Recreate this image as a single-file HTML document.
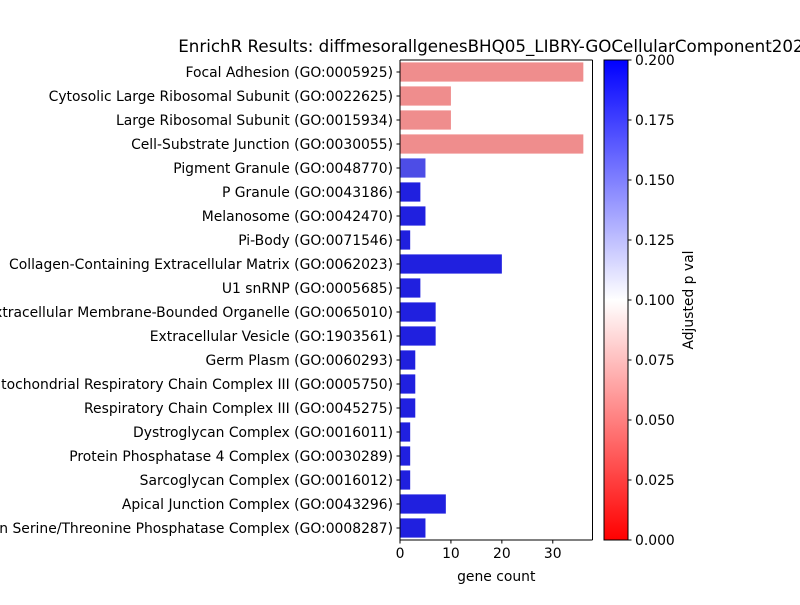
<!DOCTYPE html>
<html><head><meta charset="utf-8"><style>
body{margin:0;background:#fff}
svg text{font-family:"DejaVu Sans","Liberation Sans",sans-serif;fill:#000}
</style></head><body>
<svg id="chart" width="800" height="600" xmlns="http://www.w3.org/2000/svg">
<defs><linearGradient id="cbar" x1="0" y1="1" x2="0" y2="0">
<stop offset="0" stop-color="#ff0000"/><stop offset="0.5" stop-color="#ffffff"/><stop offset="1" stop-color="#0000ff"/>
</linearGradient></defs>
<g id="plot"></g>
</svg>
<script>
const categories=["Focal Adhesion (GO:0005925)","Cytosolic Large Ribosomal Subunit (GO:0022625)","Large Ribosomal Subunit (GO:0015934)","Cell-Substrate Junction (GO:0030055)","Pigment Granule (GO:0048770)","P Granule (GO:0043186)","Melanosome (GO:0042470)","Pi-Body (GO:0071546)","Collagen-Containing Extracellular Matrix (GO:0062023)","U1 snRNP (GO:0005685)","Extracellular Membrane-Bounded Organelle (GO:0065010)","Extracellular Vesicle (GO:1903561)","Germ Plasm (GO:0060293)","Mitochondrial Respiratory Chain Complex III (GO:0005750)","Respiratory Chain Complex III (GO:0045275)","Dystroglycan Complex (GO:0016011)","Protein Phosphatase 4 Complex (GO:0030289)","Sarcoglycan Complex (GO:0016012)","Apical Junction Complex (GO:0043296)","Protein Serine/Threonine Phosphatase Complex (GO:0008287)"];
const geneCounts=[36,10,10,36,5,4,5,2,20,4,7,7,3,3,3,2,2,2,9,5];
const adjPvals=[0.049,0.049,0.049,0.049,0.18,0.2,0.2,0.2,0.2,0.2,0.2,0.2,0.2,0.2,0.2,0.2,0.2,0.2,0.2,0.2];
const xTicks=[0,10,20,30];
const cbTicks=[0,0.025,0.05,0.075,0.1,0.125,0.15,0.175,0.2];
const NS="http://www.w3.org/2000/svg";
const g=document.getElementById('plot');
const L=400,T=60,B=540;
const xMax=Math.max(...geneCounts)*1.05;
const W=192.5;
const x=v=>L+v/xMax*W;
const step=(B-T)/categories.length;
const y=i=>T+step*i;
function mk(t,a,txt){const e=document.createElementNS(NS,t);for(const k in a)e.setAttribute(k,a[k]);if(txt!==undefined)e.textContent=txt;g.appendChild(e);return e;}
function cmap(p){let t=Math.max(0,Math.min(1,p/0.2));let r,gg,b;
 if(t<0.5){r=1;gg=b=2*t;}else{b=1;r=gg=2*(1-t);}
 const mx=Math.max(r,gg,b),mn=Math.min(r,gg,b),l=(mx+mn)/2;
 return [r,gg,b].map(c=>Math.round((l+(c-l)*0.75)*255));}
categories.forEach((c,i)=>{
 const col=cmap(adjPvals[i]);
 const r=mk('rect',{x:x(0),y:y(i)+step*0.1,width:x(geneCounts[i])-x(0),height:step*0.8,fill:`rgb(${col.join(',')})`});
 
 
 mk('line',{x1:L-3.5,x2:L,y1:y(i)+step/2,y2:y(i)+step/2,stroke:'#000'});
 const t=mk('text',{x:L-7,y:y(i)+step/2+5,'text-anchor':'end','font-size':'13.9'},c);
 
 
});
mk('line',{x1:L,x2:L,y1:T,y2:B,stroke:'#000'});
mk('line',{x1:L,x2:L+W,y1:B,y2:B,stroke:'#000'});
mk('line',{x1:L+W,x2:L+W,y1:T,y2:B,stroke:'#000'});
mk('line',{x1:L,x2:L+W,y1:T,y2:T,stroke:'#000'});
xTicks.forEach(v=>{mk('line',{x1:x(v),x2:x(v),y1:B,y2:B+3.5,stroke:'#000'});
 const t=mk('text',{x:x(v),y:B+18,'text-anchor':'middle','font-size':'13.9'},v);
 
 });
let e=mk('text',{x:L+W/2,y:581,'text-anchor':'middle','font-size':'13.9'},'gene count');

e=mk('text',{x:L+W/2,y:52,'text-anchor':'middle','font-size':'16.7'},'EnrichR Results: diffmesorallgenesBHQ05_LIBRY-GOCellularComponent2023');

// colorbar
const cx=604,cw=24;
e=mk('rect',{x:cx,y:T,width:cw,height:B-T,fill:'url(#cbar)',stroke:'#000'});

cbTicks.forEach(v=>{const yy=B-(v/0.2)*(B-T);
 mk('line',{x1:cx+cw,x2:cx+cw+3.5,y1:yy,y2:yy,stroke:'#000'});
 const t=mk('text',{x:cx+cw+7,y:yy+5,'font-size':'13.9'},v.toFixed(3));
 
 });
e=mk('text',{x:693,y:300,'text-anchor':'middle','font-size':'13.9',transform:'rotate(-90 693 300)'},'Adjusted p val');

</script>
</body></html>
